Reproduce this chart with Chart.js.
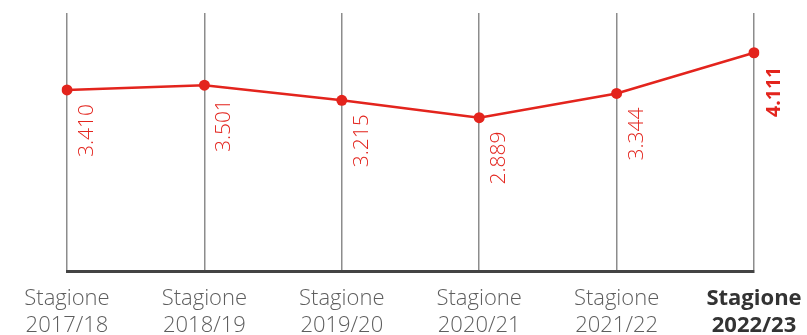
<!DOCTYPE html>
<html>
<head>
<meta charset="utf-8">
<script src="https://cdn.jsdelivr.net/npm/chart.js@4/dist/chart.umd.min.js"></script>
<style>
  html, body { margin: 0; padding: 0; background: #ffffff; }
  #wrap { width: 807px; height: 335px; }
</style>
</head>
<body>
<div id="wrap"><canvas id="chart" width="807" height="335"></canvas></div>
<script>
// Seasons shown on the x axis (two-line labels)
const seasons = ["2017/18", "2018/19", "2019/20", "2020/21", "2021/22", "2022/23"];
const seasonPrefix = "Stagione";
// Values per season (thousands, Italian decimal notation in labels)
const values = [3.410, 3.501, 3.215, 2.889, 3.344, 4.111];
const valueLabels = ["3.410", "3.501", "3.215", "2.889", "3.344", "4.111"];

const RED = "#e3241d";
const FONT = "'Open Sans', 'Noto Sans', sans-serif";
const lastIndex = seasons.length - 1;

// Rotated value labels drawn beside each point
const valueLabelPlugin = {
  id: "valueLabels",
  afterDatasetsDraw(chart) {
    const ctx = chart.ctx;
    const meta = chart.getDatasetMeta(0);
    meta.data.forEach((pt, i) => {
      const isLast = i === lastIndex;
      ctx.save();
      ctx.translate(pt.x + 20, pt.y + 14);
      ctx.rotate(-Math.PI / 2);
      ctx.font = isLast ? "700 19.5px " + FONT : "300 21px " + FONT;
      ctx.fillStyle = RED;
      ctx.textAlign = "right";
      ctx.textBaseline = "middle";
      ctx.fillText(valueLabels[i], 0, 0);
      ctx.restore();
    });
  }
};

new Chart(document.getElementById("chart"), {
  type: "line",
  data: {
    labels: seasons.map(s => [seasonPrefix, s]),
    datasets: [{
      data: values,
      borderColor: RED,
      backgroundColor: RED,
      borderWidth: 2.5,
      pointRadius: 5.5,
      pointBackgroundColor: RED,
      pointBorderWidth: 0,
      tension: 0
    }]
  },
  options: {
    responsive: false,
    animation: false,
    layout: { padding: { top: 13, left: 67, right: 53, bottom: 0 } },
    plugins: { legend: { display: false }, tooltip: { enabled: false } },
    scales: {
      x: {
        offset: false,
        grid: { color: "#8c8c8c", lineWidth: 1.5, drawTicks: false },
        border: { color: "#444444", width: 3 },
        afterFit(scale) {
          // keep the plot edges on the first and last season, labels may overhang
          scale.paddingLeft = 0;
          scale.paddingRight = 0;
          scale.height = 64;
        },
        ticks: {
          padding: 15,
          autoSkip: false,
          maxRotation: 0,
          color: ctx => ctx.index === lastIndex ? "#333333" : "#5e5e5e",
          font: ctx => ({
            family: FONT,
            size: 22,
            weight: ctx.index === lastIndex ? "700" : "300",
            lineHeight: 1.2
          })
        }
      },
      y: {
        display: false,
        min: 0,
        max: 4.86
      }
    }
  },
  plugins: [valueLabelPlugin]
});
</script>
</body>
</html>
